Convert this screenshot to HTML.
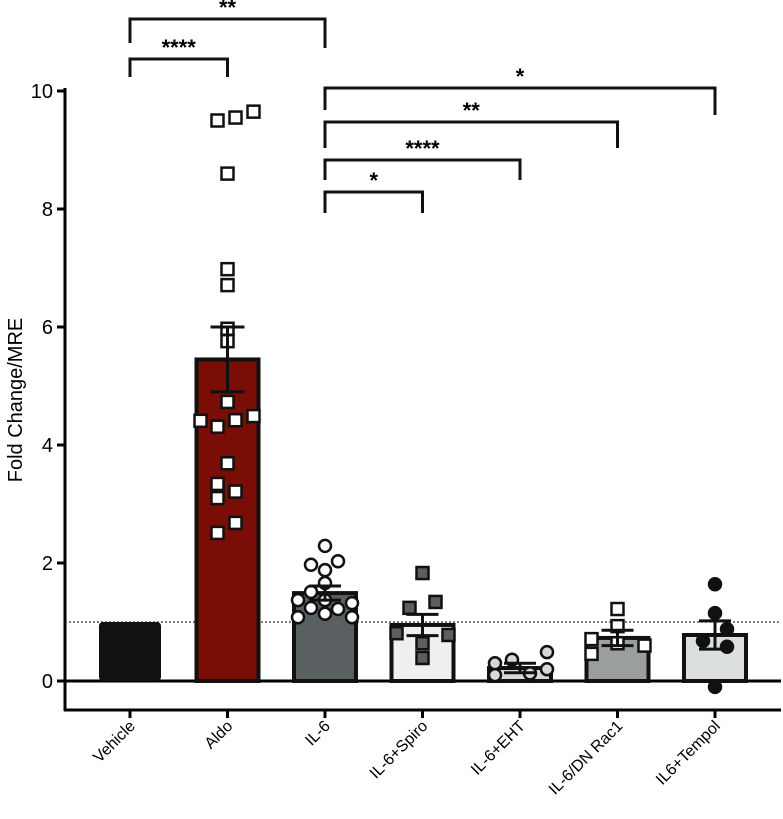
<!DOCTYPE html>
<html><head><meta charset="utf-8"><style>
html,body{margin:0;padding:0;background:#fff;}
svg{display:block;font-family:"Liberation Sans",Arial,sans-serif;}
</style></head><body>
<svg id="chart" width="783" height="819" viewBox="0 0 783 819"></svg>
<script>
const categories=["Vehicle","Aldo","IL-6","IL-6+Spiro","IL-6+EHT","IL-6/DN Rac1","IL6+Tempol"];
const means=[1.0,5.45,1.49,0.95,0.22,0.73,0.78];
const errs=[0,0.55,0.12,0.18,0.08,0.13,0.24];
const fills=["#111111","#7a0e06","#5a5f61","#efefef","#d6d9d9","#9a9e9d","#dcdfdf"];
const ptAldo=[9.5,9.55,9.65,8.6,6.98,6.71,5.97,5.76,4.73,4.41,4.31,4.42,4.49,3.69,3.34,3.1,3.21,2.68,2.51];
const ptIL6=[2.29,1.97,2.03,1.88,1.66,1.51,1.37,1.37,1.32,1.24,1.22,1.08,1.14,1.08];
const ptSpiro=[1.83,1.24,1.34,0.81,0.78,0.64,0.39];
const ptEHT=[0.3,0.36,0.13,0.49,0.2,0.1];
const ptDN=[1.22,0.71,0.46,0.93,0.64,0.6];
const ptTempol=[1.64,1.15,0.88,0.68,0.58,-0.1];
const yTicks=[0,2,4,6,8,10];
const sigPairs=[[0,2,"**"],[0,1,"****"],[2,6,"*"],[2,5,"**"],[2,4,"****"],[2,3,"*"]];

const jAldo=[-10,8,26,0,0,0,0,0,0,-27,-10,8,26,0,-10,-10,8,8,-10];
const jIL6=[0,-14,13,0,0,-14,-27,0,27,-14,13,-27,0,27];
const jSpiro=[0,-13,13,-26,26,0,0];
const jEHT=[-25,-8,10,27,27,-25];
const jDN=[0,-26,-26,0,0,27];
const jTempol=[0,0,12,-12,12,0];

const NS="http://www.w3.org/2000/svg";
const svg=document.getElementById("chart");
const y=v=>681-59*v;
const x=i=>130+i*97.5;
function el(t,a,p){const e=document.createElementNS(NS,t);for(const k in a)e.setAttribute(k,a[k]);(p||svg).appendChild(e);return e;}

let ax=el("line",{x1:65,y1:88,x2:65,y2:711,stroke:"#000","stroke-width":3});


let xa=el("line",{x1:64,y1:710,x2:781,y2:710,stroke:"#000","stroke-width":3});


yTicks.forEach(t=>{
  let l=el("line",{x1:57,y1:y(t),x2:65,y2:y(t),stroke:"#000","stroke-width":3});
  
  
  let tx=el("text",{x:53,y:y(t)+7,"text-anchor":"end","font-size":20});
  tx.textContent=t;
  
  
});
let yt=el("text",{x:22,y:400,"text-anchor":"middle","font-size":20,transform:"rotate(-90 22 400)"});
yt.textContent="Fold Change/MRE";



let z=el("line",{x1:65,y1:y(0),x2:781,y2:y(0),stroke:"#000","stroke-width":3});


let ref=el("line",{x1:65,y1:y(1),x2:781,y2:y(1),stroke:"#333","stroke-width":1.3,"stroke-dasharray":"2,2"});



categories.forEach((c,i)=>{
  const cx=x(i),w=62;
  let b=el("rect",{x:cx-w/2,y:y(means[i]),width:w,height:y(0)-y(means[i]),fill:fills[i],stroke:"#111","stroke-width":i==0?0:4,rx:i==0?4:0});
  
  
  let tk=el("line",{x1:cx,y1:710,x2:cx,y2:718,stroke:"#000","stroke-width":3});
  
  
  let tx=el("text",{x:cx+6,y:727,"text-anchor":"end","font-size":16,transform:`rotate(-45 ${cx+6} 727)`});
  tx.textContent=c;
  
  
});

function pts(i,vals,jit,shape,fill){
  vals.forEach((v,k)=>{
    const px=x(i)+jit[k],py=y(v);let p;
    if(shape=="sq")p=el("rect",{x:px-6,y:py-6,width:12,height:12,fill:fill,stroke:"#111","stroke-width":2.5});
    else p=el("circle",{cx:px,cy:py,r:6,fill:fill,stroke:"#111","stroke-width":2.5});
    
    
  });
}
pts(1,ptAldo,jAldo,"sq","#fff");
pts(2,ptIL6,jIL6,"c","#fff");
pts(3,ptSpiro,jSpiro,"sq","#5a5f61");
pts(4,ptEHT,jEHT,"c","#d6d9d9");
pts(5,ptDN,jDN,"sq","#fff");
pts(6,ptTempol,jTempol,"c","#111");

categories.forEach((c,i)=>{
  if(!errs[i])return;
  const cx=x(i),hi=y(means[i]+errs[i]),lo=y(means[i]-errs[i]),cw=i==1?17:16;
  const g=el("g",{stroke:"#111","stroke-width":3});
  
  
  el("line",{x1:cx,y1:hi,x2:cx,y2:lo},g);
  el("line",{x1:cx-cw,y1:hi,x2:cx+cw,y2:hi},g);
  el("line",{x1:cx-cw,y1:lo,x2:cx+cw,y2:lo},g);
});

const bY=[19,59,88,122,160,192],lE=[43,77,110,148,180,213],rE=[48,77,115,148,180,213];
sigPairs.forEach((s,k)=>{
  const a=x(s[0]),b=x(s[1]);
  const g=el("g",{});
  
  
  el("polyline",{points:`${a},${lE[k]} ${a},${bY[k]} ${b},${bY[k]} ${b},${rE[k]}`,fill:"none",stroke:"#111","stroke-width":3},g);
  const t=el("text",{x:(a+b)/2,y:bY[k]-4,"text-anchor":"middle","font-size":22,"font-weight":"bold"},g);
  t.textContent=s[2];
});
</script>
</body></html>
